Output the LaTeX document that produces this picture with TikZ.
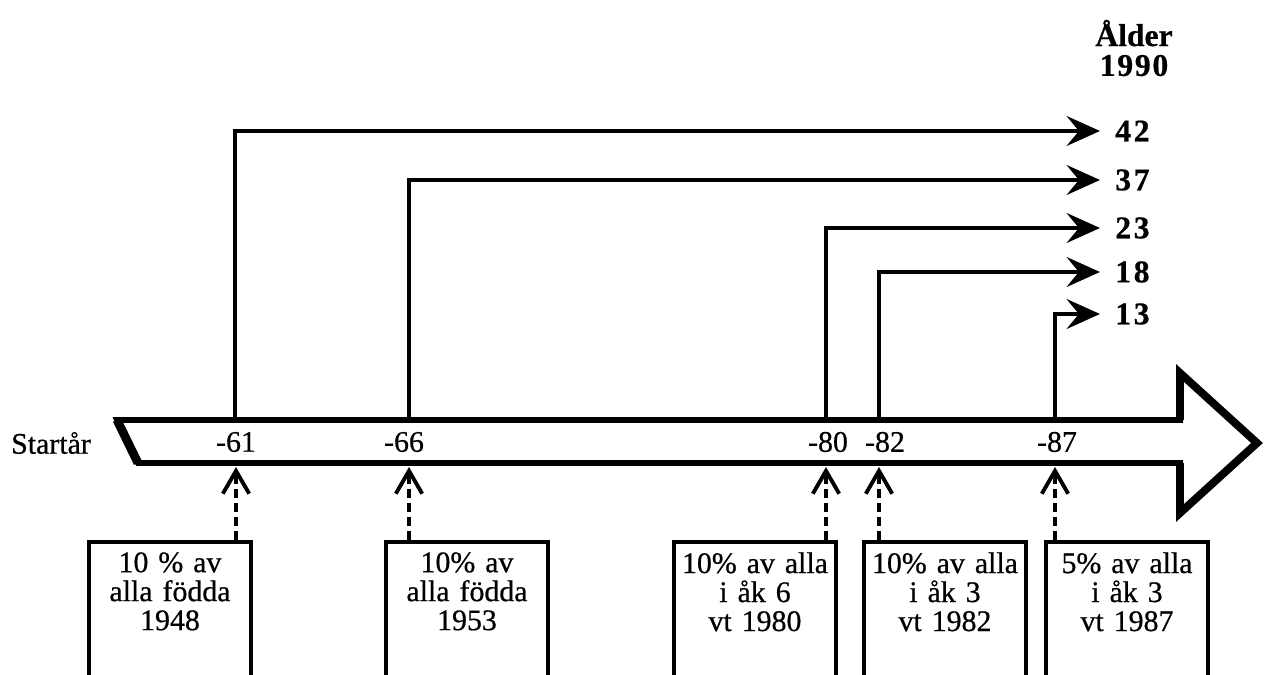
\documentclass[tikz,border=0pt]{standalone}
\usepackage{fontspec}
\setmainfont{Liberation Serif}[FakeBold=0.6]
\newfontfamily\inkfont{Liberation Serif}[FakeBold=0.6]
\usetikzlibrary{arrows.meta, positioning, calc}

\begin{document}
\begin{tikzpicture}[x=0.02cm, y=-0.02cm,
    timeline/.style={line width=3.2pt, line join=miter},
    agearrow/.style={line width=2.2pt, -{Stealth[length=19pt, width=17pt, inset=7pt]}},
    agelbl/.style={anchor=west, inner xsep=8.5pt, inner ysep=0pt, font=\fontsize{18}{18}\selectfont\bfseries},
    yearlbl/.style={inner sep=0pt, font=\inkfont\fontsize{17}{17}\selectfont},
    srcbox/.style={draw, line width=2pt, anchor=north, minimum width=3.12cm, text width=3.0cm,
        align=center, inner ysep=6pt, text depth=3cm, font=\inkfont\fontsize{17}{16.5}\selectfont},
    srcarrow/.style={line width=2.2pt, dash pattern=on 5pt off 3pt,
        -{Straight Barb[length=13pt, width=15pt, line width=2.2pt]}}]
    \useasboundingbox (0,0) rectangle (1264,675);
    \clip (0,0) rectangle (1264,675);

    % big time arrow
    \draw[timeline] (117,420) -- (1180,420) -- (1180,373) -- (1258,443) -- (1180,513)
        -- (1180,463) -- (138,463) -- cycle;
    \draw[line width=4.5pt, line join=miter] (1180,420) -- (1180,373) -- (1257,443) -- (1180,513) -- (1180,463);
    \draw[line width=5pt] (117,420) -- (138,463);
    \node[yearlbl] (start) at (51,443) {Startår};

    % start years
    \node[yearlbl] (y61) at (236,442) {-61};
    \node[yearlbl] (y66) at (404,442) {-66};
    \node[yearlbl] (y80) at (828,442) {-80};
    \node[yearlbl] (y82) at (885,442) {-82};
    \node[yearlbl] (y87) at (1057,442) {-87};

    % age in 1990
    \node[align=center, inner sep=0pt, font=\fontsize{18}{17}\selectfont\bfseries] (alder) at (1134,48)
        {Ålder\\ 1\kern1pt 9\kern1pt 9\kern1pt 0};
    \node[agelbl] (a42) at (1100,131) {4\kern1.5pt 2};
    \node[agelbl] (a37) at (1100,180) {3\kern1.5pt 7};
    \node[agelbl] (a23) at (1100,228) {2\kern1.5pt 3};
    \node[agelbl] (a18) at (1100,272) {1\kern1.5pt 8};
    \node[agelbl] (a13) at (1100,314) {1\kern1.5pt 3};

    \coordinate (t61) at (235,420);
    \coordinate (t66) at (409,420);
    \coordinate (t80) at (826,420);
    \coordinate (t82) at (879,420);
    \coordinate (t87) at (1055,420);
    \draw[agearrow] (t61) |- (a42);
    \draw[agearrow] (t66) |- (a37);
    \draw[agearrow] (t80) |- (a23);
    \draw[agearrow] (t82) |- (a18);
    \draw[agearrow] (t87) |- (a13);

    % samples
    \node[srcbox] (b61) at (170,540) {10 \% av\\alla födda\\1948};
    \node[srcbox] (b66) at (467,540) {10\% av\\alla födda\\1953};
    \node[srcbox] (b80) at (755,540) {10\% av alla\\i åk 6\\vt 1980};
    \node[srcbox] (b82) at (945,540) {10\% av alla\\i åk 3\\vt 1982};
    \node[srcbox] (b87) at (1127,540) {5\% av alla\\i åk 3\\vt 1987};

    \coordinate (m61) at (236,467);
    \coordinate (m66) at (409,467);
    \coordinate (m80) at (826,467);
    \coordinate (m82) at (879,467);
    \coordinate (m87) at (1055,467);
    \draw[srcarrow] (b61.north -| m61) -- (m61);
    \draw[srcarrow] (b66.north -| m66) -- (m66);
    \draw[srcarrow] (b80.north -| m80) -- (m80);
    \draw[srcarrow] (b82.north -| m82) -- (m82);
    \draw[srcarrow] (b87.north -| m87) -- (m87);
\end{tikzpicture}
\end{document}
